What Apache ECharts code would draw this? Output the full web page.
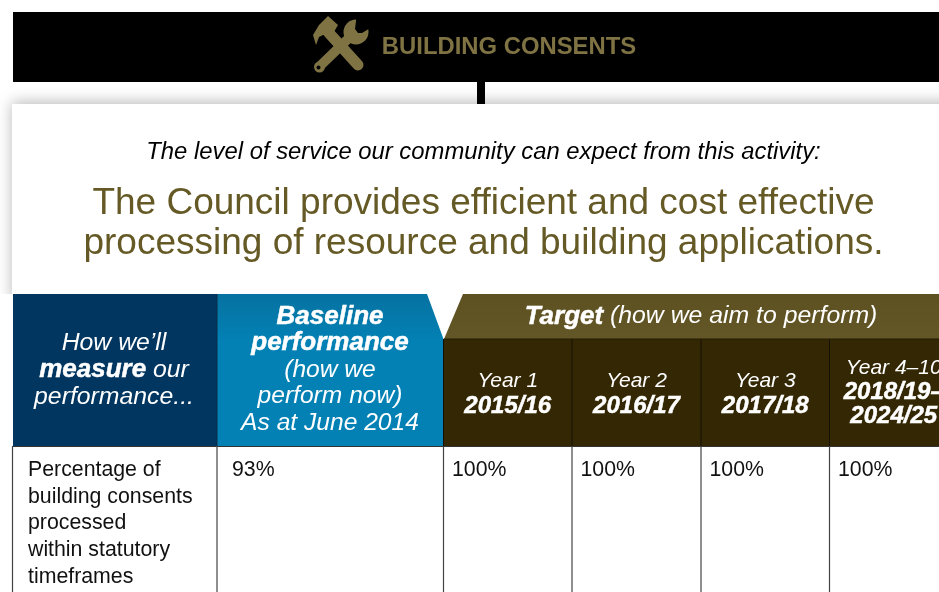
<!DOCTYPE html>
<html>
<head>
<meta charset="utf-8">
<style>
  html, body { margin: 0; padding: 0; background: #fff; }
  #main { width: 939px; height: 592px; }
</style>
<script src="https://cdn.jsdelivr.net/npm/echarts@6/dist/echarts.min.js"></script>
</head>
<body>
<div id="main"></div>
<script>
const sectionTitle = 'BUILDING CONSENTS'
const serviceIntro = 'The level of service our community can expect from this activity:'
const serviceLines = [
  'The Council provides efficient and cost effective',
  'processing of resource and building applications.'
]
const measureHeader = ['How we’ll', '{h|measure} our', 'performance...']
const baselineHeader = ['{h|Baseline}', '{h|performance}', '(how we', 'perform now)', 'As at June 2014']
const targetHeader = '{h|Target} (how we aim to perform)'
const yearLabels = ['Year 1', 'Year 2', 'Year 3', 'Year 4–10']
const yearRanges = [['2015/16'], ['2016/17'], ['2017/18'], ['2018/19–', '2024/25']]
const measureLines = ['Percentage of', 'building consents', 'processed', 'within statutory', 'timeframes']
const baselineValue = '93%'
const targetValues = ['100%', '100%', '100%', '100%']

const FONT = '"Liberation Sans", Arial, sans-serif'
const OLIVE = '#7f7344'
const colX = [12.5, 217, 443.5, 572, 701, 829.5, 958]
const elements = []

function addRect(x, y, w, h, fill, extra) {
  elements.push({ type: 'rect', shape: { x, y, width: w, height: h }, style: Object.assign({ fill }, extra) })
}
function addPoly(points, fill) {
  elements.push({ type: 'polygon', shape: { points }, style: { fill } })
}
function addCircle(cx, cy, r, fill) {
  elements.push({ type: 'circle', shape: { cx, cy, r }, style: { fill } })
}
function addLine(x1, y1, x2, y2, stroke, lineWidth, cap) {
  elements.push({ type: 'line', shape: { x1, y1, x2, y2 }, style: { stroke, lineWidth, lineCap: cap || 'butt' } })
}
// one line of text, y is its middle
function addText(text, x, y, size, fill, align, opts) {
  const boldSize = (opts && opts.boldSize) || size
  elements.push({
    type: 'text',
    x,
    y: y + 1.5,
    style: {
      text,
      fill,
      font: (opts && opts.font) || `${size}px ${FONT}`,
      align: align || 'center',
      verticalAlign: 'middle',
      rich: {
        // the source uses a black weight, so thicken the bold a little
        h: { fill: '#fff', stroke: '#fff', lineWidth: 0.5, fontSize: boldSize, fontFamily: FONT, fontWeight: 'bold', fontStyle: 'italic' }
      }
    }
  })
}
function headerLine(text, x, y, size, boldSize) {
  addText(text, x, y, size, '#fff', 'center', { font: `italic ${size}px ${FONT}`, boldSize })
}

// top band
addRect(13, 12, 930, 70, '#000')
addRect(477, 82, 8, 24, '#000')

// wrench
addLine(320, 66, 350, 37, OLIVE, 9.5, 'round')
addCircle(319.5, 67, 5.5, OLIVE)
addCircle(356, 32, 12.5, OLIVE)
addPoly([[355, 29], [358, 33], [362, 33], [372, 27], [372, 13], [357, 13]], '#000')
addCircle(318.5, 67.5, 2, '#000')
// hammer
addLine(358, 65, 329, 33, OLIVE, 11, 'round')
addPoly([[328, 16], [338, 25], [331, 37], [323, 35], [319, 37], [316, 45], [313, 35], [319, 25]], OLIVE)

addText(sectionTitle, 509, 46, 23.85, OLIVE, 'center', { font: `bold 23.85px ${FONT}` })

// panel
addRect(12, 104, 960, 200, '#fff', { shadowBlur: 14, shadowColor: 'rgba(0,0,0,0.28)', shadowOffsetY: -2 })
addRect(0, 294, 939, 298, '#fff')

addText(serviceIntro, 483.5, 150.5, 23.85, '#000', 'center', { font: `italic 23.85px ${FONT}` })
addText(serviceLines[0], 483.5, 202, 37, '#655a26')
addText(serviceLines[1], 483.5, 242, 37, '#655a26')

// table header blocks
addRect(13, 294, 204, 152, '#003660')
elements.push({
  type: 'polygon',
  shape: { points: [[217, 294], [427, 294], [443.5, 339], [443.5, 446], [217, 446]] },
  style: { fill: new echarts.graphic.LinearGradient(0, 0, 0, 1, [
    { offset: 0, color: '#0672a1' }, { offset: 0.3, color: '#0380b4' }, { offset: 1, color: '#0380b4' }
  ]) }
})
elements.push({
  type: 'polygon',
  shape: { points: [[463, 294], [960, 294], [960, 339], [444, 339]] },
  style: { fill: new echarts.graphic.LinearGradient(0, 0, 0, 1, [
    { offset: 0, color: '#5d5021' }, { offset: 1, color: '#645727' }
  ]) }
})
addRect(443.5, 339, 520, 107, '#332704')

measureHeader.forEach((t, i) => headerLine(t, 114, 342 + i * 26.7, 24.8, 26))
baselineHeader.forEach((t, i) => headerLine(t, 330, 315 + i * 26.7, 24.6, 26))
headerLine(targetHeader, 701, 315, 24.8, 26)

yearLabels.forEach((label, i) => {
  const cx = (colX[i + 2] + colX[i + 3]) / 2
  const ranges = yearRanges[i]
  const top = ranges.length > 1 ? 367 : 380
  headerLine(label, cx, top, 21, 24)
  ranges.forEach((r, j) => headerLine(`{h|${r}}`, cx, top + 24 * (j + 1) + (ranges.length > 1 ? 0 : 1), 21, 24))
})

// grid lines
colX.slice(1, 6).forEach((x, i) => {
  addLine(x, i > 0 ? 339 : 294, x, 446, i > 0 ? '#141005' : '#0d2c47', 1)
})
addLine(444, 339, 939, 339, '#241c03', 1)
addLine(13, 446.5, 939, 446.5, '#333', 1.2)
colX.slice(0, 6).forEach(x => addLine(x, 446, x, 592, '#444', 1.2))

// table body
measureLines.forEach((t, i) => addText(t, 28, 468.5 + i * 26.75, 21.3, '#111', 'left'))
addText(baselineValue, 232, 468.5, 21.3, '#111', 'left')
targetValues.forEach((t, i) => addText(t, colX[i + 2] + 8.5, 468.5, 21.3, '#111', 'left'))

const chart = echarts.init(document.getElementById('main'))
chart.setOption({
  animation: false,
  backgroundColor: '#fff',
  graphic: { elements }
})
</script>
</body>
</html>
